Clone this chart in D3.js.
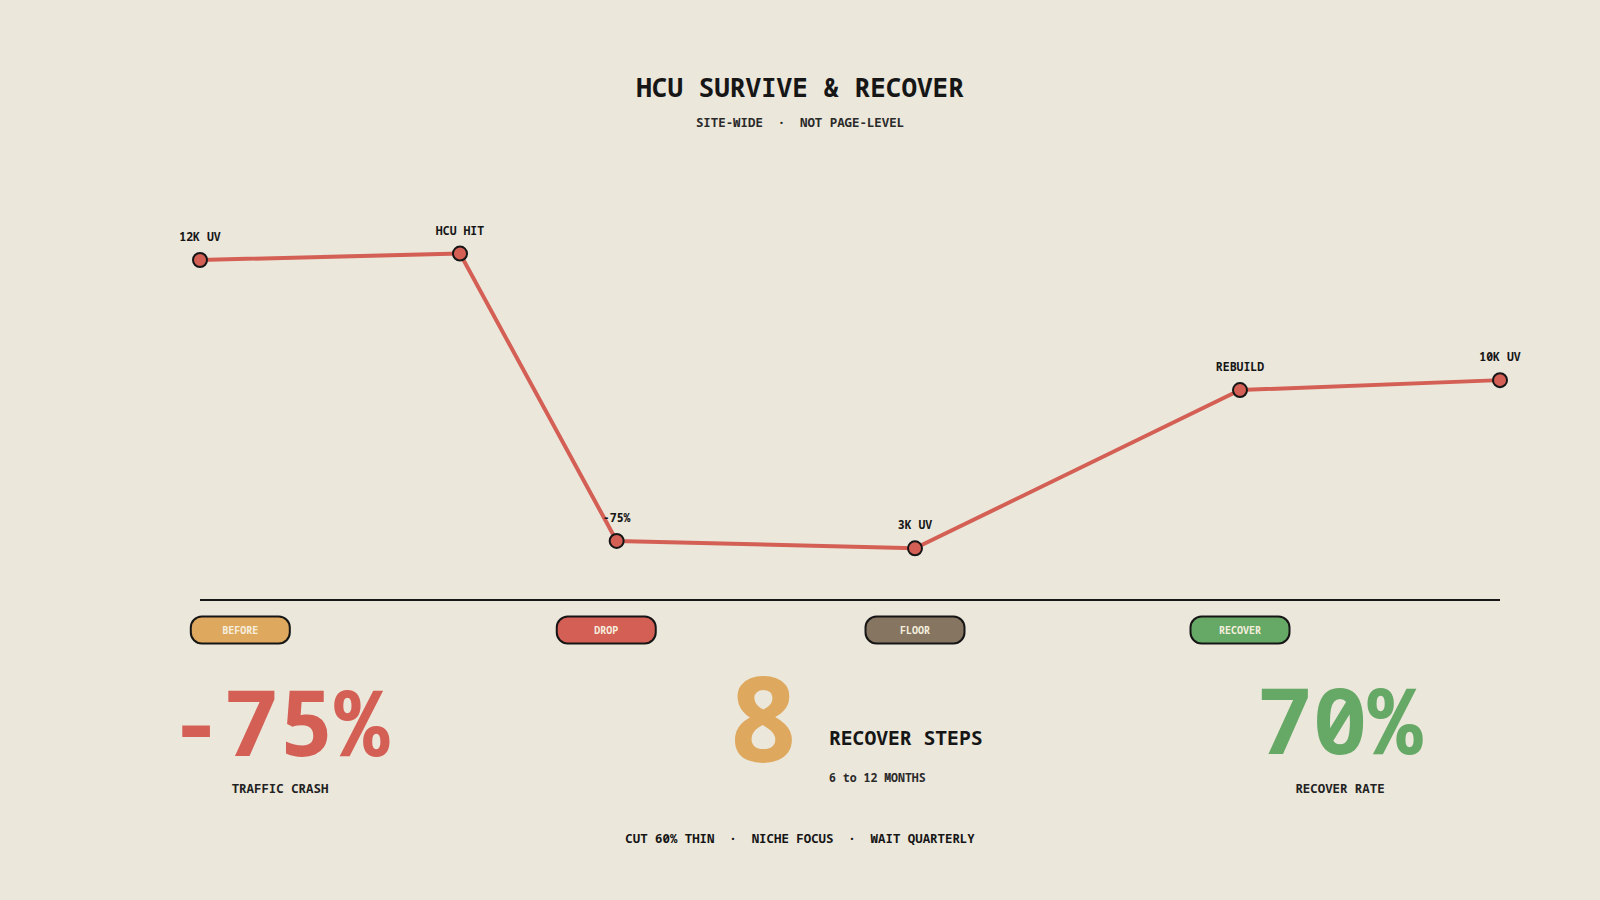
<!DOCTYPE html>
<html>
<head>
<meta charset="utf-8">
<script src="https://cdn.jsdelivr.net/npm/d3@7"></script>
<style>
  html, body { margin: 0; padding: 0; background: #ebe7db; }
  svg { display: block; }
  text { font-family: "Noto Sans Mono", "DejaVu Sans Mono", monospace; white-space: pre; }
</style>
</head>
<body>
<svg id="chart" width="1600" height="900"></svg>
<script>
// ---- data ----
const stageX = [0, 20, 32.05, 55, 80, 100];
const trafficK = [12, 12.2, 3.23, 3.0, 7.94, 8.25];
const pointLabels = ["12K UV", "HCU HIT", "-75%", "3K UV", "REBUILD", "10K UV"];
const phaseNames = ["BEFORE", "DROP", "FLOOR", "RECOVER"];
const phaseX = [3.1, 31.25, 55, 80];
const phaseColors = ["#dea85e", "#d45f55", "#857561", "#66a866"];
const title = "HCU SURVIVE & RECOVER";
const subtitle = "SITE-WIDE  \u00B7  NOT PAGE-LEVEL";
const footer = "CUT 60% THIN  \u00B7  NICHE FOCUS  \u00B7  WAIT QUARTERLY";
const kpiValues = ["-75%", "8", "70%"];
const kpiLabels = ["TRAFFIC CRASH", "RECOVER STEPS", "RECOVER RATE"];
const kpiSub = "6 to 12 MONTHS";
const kpiColors = ["#d45f55", "#dea85e", "#66a866"];

const ink = "#161616";
const svg = d3.select("#chart");
svg.append("rect").attr("width", 1600).attr("height", 900).attr("fill", "#ebe7db");

const x = d3.scaleLinear().domain([0, 100]).range([200, 1500]);
const y = d3.scaleLinear().domain([0, 12]).range([644.4, 260]);

// title
svg.append("text").attr("x", 800).attr("y", 97).attr("text-anchor", "middle")
  .attr("font-size", 26).attr("font-weight", "bold").attr("fill", ink).text(title);
svg.append("text").attr("x", 800).attr("y", 127).attr("text-anchor", "middle")
  .attr("font-size", 12.4).attr("font-weight", "bold").attr("fill", "#2a2a2a").text(subtitle);

// baseline axis
svg.append("line").attr("x1", x(0)).attr("x2", x(100)).attr("y1", 600).attr("y2", 600)
  .attr("stroke", ink).attr("stroke-width", 2);

const pts = stageX.map((d, i) => ({ x: d, v: trafficK[i], label: pointLabels[i] }));

svg.append("path").datum(pts)
  .attr("d", d3.line().x(d => x(d.x)).y(d => y(d.v)))
  .attr("fill", "none").attr("stroke", "#d45f55").attr("stroke-width", 4)
  .attr("stroke-linejoin", "round");

svg.selectAll("circle.pt").data(pts).enter().append("circle")
  .attr("class", "pt").attr("cx", d => x(d.x)).attr("cy", d => y(d.v)).attr("r", 7)
  .attr("fill", "#d45f55").attr("stroke", ink).attr("stroke-width", 2);

svg.selectAll("text.pl").data(pts).enter().append("text")
  .attr("class", "pl").attr("x", d => x(d.x)).attr("y", d => y(d.v) - 19)
  .attr("text-anchor", "middle").attr("font-size", 11.5).attr("font-weight", "bold")
  .attr("fill", ink).text(d => d.label);

// phase pills
const pills = svg.selectAll("g.pill").data(phaseNames).enter().append("g")
  .attr("class", "pill").attr("transform", (d, i) => `translate(${x(phaseX[i])},630)`);
pills.append("rect").attr("x", -49.5).attr("y", -13.5).attr("width", 99).attr("height", 27)
  .attr("rx", 11).attr("ry", 11)
  .attr("fill", (d, i) => phaseColors[i]).attr("stroke", ink).attr("stroke-width", 2);
pills.append("text").attr("y", 3.5).attr("text-anchor", "middle")
  .attr("font-size", 10).attr("font-weight", "bold").attr("fill", "#f6efdf").text(d => d);

// KPIs
svg.append("text").attr("x", 279).attr("y", 756).attr("text-anchor", "middle")
  .attr("font-size", 92).attr("font-weight", "bold").attr("fill", kpiColors[0]).text(kpiValues[0]);
svg.append("text").attr("x", 280).attr("y", 793).attr("text-anchor", "middle")
  .attr("font-size", 12.4).attr("font-weight", "bold").attr("fill", "#222").text(kpiLabels[0]);

svg.append("text").attr("x", 728).attr("y", 762).attr("text-anchor", "start")
  .attr("font-size", 118).attr("font-weight", "bold").attr("fill", kpiColors[1]).text(kpiValues[1]);
svg.append("text").attr("x", 829).attr("y", 745).attr("text-anchor", "start")
  .attr("font-size", 19.7).attr("font-weight", "bold").attr("fill", ink).text(kpiLabels[1]);
svg.append("text").attr("x", 829).attr("y", 782).attr("text-anchor", "start")
  .attr("font-size", 11.5).attr("font-weight", "bold").attr("fill", "#2a2a2a").text(kpiSub);

svg.append("text").attr("x", 1340).attr("y", 754).attr("text-anchor", "middle")
  .attr("font-size", 92).attr("font-weight", "bold").attr("fill", kpiColors[2]).text(kpiValues[2]);
svg.append("text").attr("x", 1340).attr("y", 793).attr("text-anchor", "middle")
  .attr("font-size", 12.4).attr("font-weight", "bold").attr("fill", "#222").text(kpiLabels[2]);

// footer
svg.append("text").attr("x", 800).attr("y", 843).attr("text-anchor", "middle")
  .attr("font-size", 12.4).attr("font-weight", "bold").attr("fill", ink).text(footer);
</script>
</body>
</html>
